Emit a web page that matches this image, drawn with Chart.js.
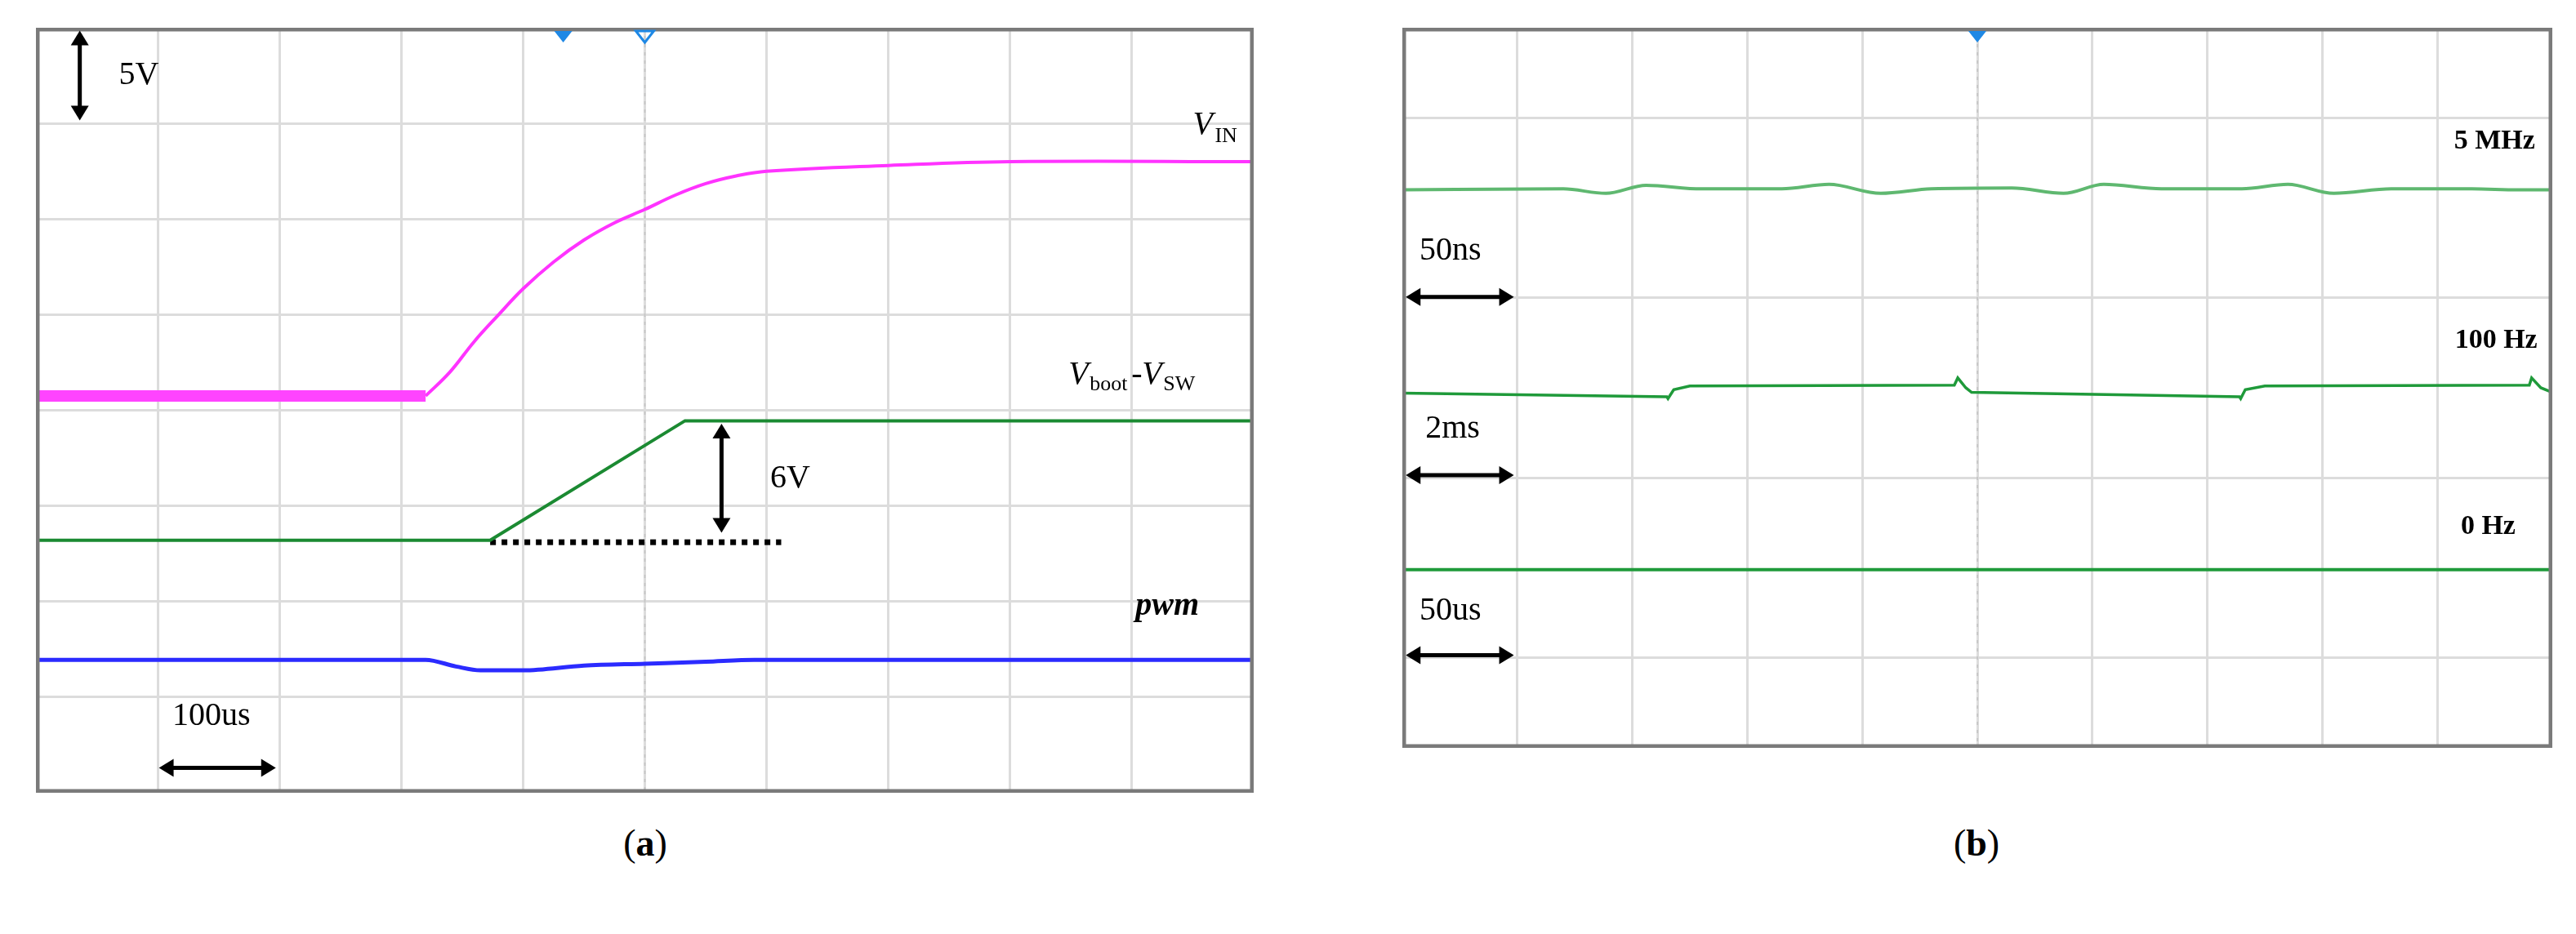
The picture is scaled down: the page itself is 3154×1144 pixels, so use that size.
<!DOCTYPE html>
<html><head><meta charset="utf-8">
<script src="https://cdn.jsdelivr.net/npm/chart.js@4"></script>
<style>
html,body{margin:0;padding:0;background:#fff;width:3154px;height:1144px;overflow:hidden;font-family:"Liberation Serif",serif}
.box{position:absolute}
.cap{position:absolute;font:46px "Liberation Serif";color:#000;transform:translateX(-50%)}
</style></head><body>
<div class="box" style="left:44px;top:34px;width:1491px;height:937px"><canvas id="ca"></canvas></div>
<div class="box" style="left:1717px;top:34px;width:1408px;height:882px"><canvas id="cb"></canvas></div>
<div class="cap" style="left:790px;top:1006px">(<b>a</b>)</div>
<div class="cap" style="left:2420px;top:1006px">(<b>b</b>)</div>
<script>
// ---- Panel (a) data (x, y in screen divisions) ----
const vinLowX = [0, 0.5, 1, 1.5, 2, 2.5, 3, 3.2];
const vinLowY = [4.15, 4.15, 4.15, 4.15, 4.15, 4.15, 4.15, 4.15];
const vinX = [3.2, 3.4, 3.6, 3.8, 4.0, 4.25, 4.5, 4.75, 5.0, 5.25, 5.5, 5.75, 6.0, 7.0, 8.0, 10];
const vinY = [4.15, 4.4, 4.72, 5.0, 5.27, 5.55, 5.78, 5.96, 6.1, 6.25, 6.37, 6.45, 6.5, 6.56, 6.6, 6.6];
const bootX = [0, 3.73, 5.33, 10];
const bootY = [2.64, 2.64, 3.89, 3.89];
const pwmX = [0, 3.2, 3.45, 3.65, 4.0, 4.5, 5.0, 5.5, 5.9, 10];
const pwmY = [1.39, 1.39, 1.32, 1.28, 1.28, 1.33, 1.35, 1.37, 1.39, 1.39];
const refX = [3.73, 6.12];
const refY = [2.62, 2.62];
// ---- Panel (b) data ----
const mhzX = [0, 1.4, 1.77, 2.12, 2.6, 3.3, 3.71, 4.16, 4.6, 5.3, 5.75, 6.1, 6.6, 7.3, 7.7, 8.1, 8.6, 9.3, 9.7, 10];
const mhzY = [6.2, 6.21, 6.16, 6.25, 6.21, 6.21, 6.26, 6.16, 6.21, 6.22, 6.16, 6.26, 6.21, 6.21, 6.26, 6.16, 6.21, 6.21, 6.2, 6.2];
const hzX = [0, 2.3, 2.31, 2.36, 2.5, 4.8, 4.83, 4.9, 4.95, 7.28, 7.29, 7.33, 7.5, 9.8, 9.82, 9.9, 10];
const hzY = [3.94, 3.9, 3.88, 3.98, 4.02, 4.03, 4.11, 4.0, 3.95, 3.9, 3.88, 3.98, 4.02, 4.03, 4.11, 4.0, 3.95];
const dcX = [0, 10];
const dcY = [1.98, 1.98];

const pts = (xs, ys) => xs.map((x, i) => ({x, y: ys[i]}));

function gridScales(ymax, yGrid) {
  return {
    x: {type:'linear', min:0, max:10, display:true,
        ticks:{display:false, stepSize:1}, border:{display:false},
        grid:{color:'#dcdcdc', lineWidth:3, drawTicks:false}},
    y: {type:'linear', min:0, max:ymax, display:true,
        ticks:{display:false, stepSize:1}, border:{display:false},
        afterBuildTicks: s => { s.ticks = yGrid.map(v => ({value:v})); },
        grid:{color:'#dcdcdc', lineWidth:3, drawTicks:false}}
  };
}

function arrowH(ctx, x1, x2, y) {
  ctx.save(); ctx.strokeStyle='#000'; ctx.fillStyle='#000'; ctx.lineWidth=5;
  ctx.beginPath(); ctx.moveTo(x1+12, y); ctx.lineTo(x2-12, y); ctx.stroke();
  ctx.beginPath(); ctx.moveTo(x1, y); ctx.lineTo(x1+18, y-11); ctx.lineTo(x1+18, y+11); ctx.fill();
  ctx.beginPath(); ctx.moveTo(x2, y); ctx.lineTo(x2-18, y-11); ctx.lineTo(x2-18, y+11); ctx.fill();
  ctx.restore();
}
function arrowV(ctx, x, y1, y2) {
  ctx.save(); ctx.strokeStyle='#000'; ctx.fillStyle='#000'; ctx.lineWidth=5;
  ctx.beginPath(); ctx.moveTo(x, y1+12); ctx.lineTo(x, y2-12); ctx.stroke();
  ctx.beginPath(); ctx.moveTo(x, y1); ctx.lineTo(x-11, y1+18); ctx.lineTo(x+11, y1+18); ctx.fill();
  ctx.beginPath(); ctx.moveTo(x, y2); ctx.lineTo(x-11, y2-18); ctx.lineTo(x+11, y2-18); ctx.fill();
  ctx.restore();
}
function frame(ctx, a) {
  ctx.save(); ctx.strokeStyle='#7a7a7a'; ctx.lineWidth=5;
  ctx.strokeRect(a.left+2, a.top+2, a.right-a.left-4, a.bottom-a.top-4); ctx.restore();
}
function centerDots(ctx, c, xv) {
  const X = c.scales.x, a = c.chartArea;
  ctx.save(); ctx.strokeStyle='#c8c8c8'; ctx.lineWidth=2; ctx.setLineDash([4,6]);
  const px = X.getPixelForValue(xv);
  ctx.beginPath(); ctx.moveTo(px, a.top); ctx.lineTo(px, a.bottom); ctx.stroke();
  ctx.restore();
}
function tri(ctx, x, y, filled) {
  ctx.save(); ctx.fillStyle='#1e88e5'; ctx.strokeStyle='#1e88e5'; ctx.lineWidth=3;
  ctx.beginPath(); ctx.moveTo(x-11, y); ctx.lineTo(x+11, y); ctx.lineTo(x, y+14); ctx.closePath();
  filled ? ctx.fill() : ctx.stroke(); ctx.restore();
}

const plugA = {
  id:'annA',
  beforeDatasetsDraw(c) { centerDots(c.ctx, c, 5); },
  afterDatasetsDraw(c) {
    const ctx = c.ctx, X = c.scales.x, Y = c.scales.y, a = c.chartArea;
    const px = v => X.getPixelForValue(v), py = v => Y.getPixelForValue(v);
    frame(ctx, a);
    tri(ctx, px(4.33), a.top+4, true); tri(ctx, px(5.0), a.top+4, false);
    arrowV(ctx, px(0.36), py(7.97), py(7.03));
    arrowV(ctx, px(5.63), py(3.86), py(2.72));
    arrowH(ctx, px(1.01), px(1.97), py(0.26));
    ctx.save(); ctx.fillStyle='#000'; ctx.textBaseline='middle';
    ctx.font='40px "Liberation Serif"';
    ctx.fillText('5V', px(0.68), py(7.5));
    ctx.fillText('6V', px(6.03), py(3.28));
    ctx.fillText('100us', px(1.12), py(0.8));
    ctx.font='italic 40px "Liberation Serif"';
    ctx.fillText('V', px(9.5), py(6.98));
    ctx.font='26px "Liberation Serif"';
    ctx.fillText('IN', px(9.5)+27, py(6.98)+14);
    let x0 = px(8.48), y0 = py(4.37);
    ctx.font='italic 40px "Liberation Serif"'; ctx.fillText('V', x0, y0);
    ctx.font='26px "Liberation Serif"'; ctx.fillText('boot', x0+26, y0+12);
    ctx.font='40px "Liberation Serif"'; ctx.fillText('-', x0+77, y0);
    ctx.font='italic 40px "Liberation Serif"'; ctx.fillText('V', x0+90, y0);
    ctx.font='26px "Liberation Serif"'; ctx.fillText('SW', x0+116, y0+12);
    ctx.font='bold italic 40px "Liberation Serif"'; ctx.fillText('pwm', px(9.03), py(1.95));
    ctx.restore();
  }
};

const plugB = {
  id:'annB',
  beforeDatasetsDraw(c) { centerDots(c.ctx, c, 5); },
  afterDatasetsDraw(c) {
    const ctx = c.ctx, X = c.scales.x, Y = c.scales.y, a = c.chartArea;
    const px = v => X.getPixelForValue(v), py = v => Y.getPixelForValue(v);
    frame(ctx, a);
    tri(ctx, px(5.0), a.top+4, true);
    ctx.save(); ctx.fillStyle='#000'; ctx.textBaseline='middle';
    ctx.font='bold 34px "Liberation Serif"'; ctx.textAlign='right';
    ctx.fillText('5 MHz', px(9.85), py(6.74));
    ctx.fillText('100 Hz', px(9.87), py(4.52));
    ctx.fillText('0 Hz', px(9.68), py(2.46));
    ctx.textAlign='left'; ctx.font='40px "Liberation Serif"';
    ctx.fillText('50ns', px(0.15), py(5.52));
    ctx.fillText('2ms', px(0.2), py(3.54));
    ctx.fillText('50us', px(0.15), py(1.52));
    ctx.restore();
    arrowH(ctx, px(0.03), px(0.97), py(5.01));
    arrowH(ctx, px(0.03), px(0.97), py(3.03));
    arrowH(ctx, px(0.03), px(0.97), py(1.03));
  }
};

const common = {
  responsive:true, maintainAspectRatio:false, animation:false,
  layout:{padding:0},
  plugins:{legend:{display:false}, tooltip:{enabled:false}},
  elements:{point:{radius:0}, line:{tension:0}}
};

new Chart(document.getElementById('ca'), {
  type:'line',
  data:{datasets:[
    {data:pts(vinLowX, vinLowY), borderColor:'#ff44ff', borderWidth:14},
    {data:pts(vinX, vinY), borderColor:'#ff33ff', borderWidth:4, tension:0.4},
    {data:pts(bootX, bootY), borderColor:'#1b8a32', borderWidth:4},
    {data:pts(pwmX, pwmY), borderColor:'#2b2bff', borderWidth:5, cubicInterpolationMode:'monotone'},
    {data:pts(refX, refY), borderColor:'#000', borderWidth:7, borderDash:[7,7]}
  ]},
  options:Object.assign({}, common, {scales:gridScales(8, [1,2,3,4,5,6,7])}),
  plugins:[plugA]
});

new Chart(document.getElementById('cb'), {
  type:'line',
  data:{datasets:[
    {data:pts(mhzX, mhzY), borderColor:'#5fb870', borderWidth:4, cubicInterpolationMode:'monotone'},
    {data:pts(hzX, hzY), borderColor:'#1f9a3a', borderWidth:3.5},
    {data:pts(dcX, dcY), borderColor:'#1f9a3a', borderWidth:4}
  ]},
  options:Object.assign({}, common, {scales:gridScales(8, [1,3,5,7])}),
  plugins:[plugB]
});
</script>
</body></html>
